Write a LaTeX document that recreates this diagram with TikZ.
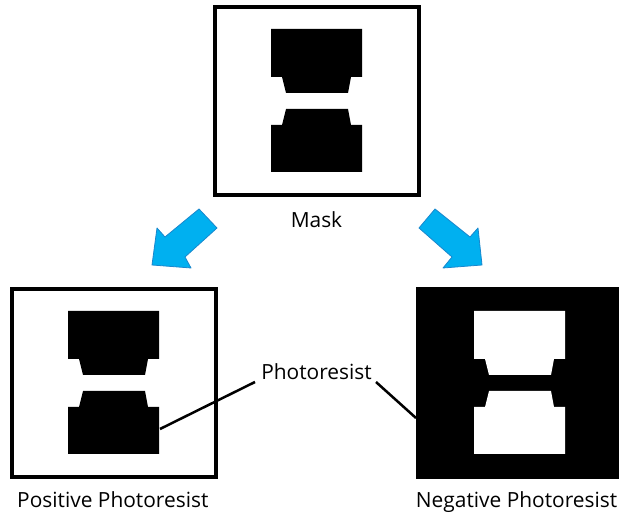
\documentclass[tikz,border=0pt]{standalone}
\usepackage{fontspec}
\setmainfont{Open Sans}
\definecolor{arrowfill}{RGB}{0,176,240}
\definecolor{arrowline}{RGB}{25,135,205}
\tikzset{
  frame/.style={draw=black, line width=4pt, inner sep=0pt, minimum width=204pt, minimum height=188pt},
  lbl/.style={inner sep=0pt, font=\fontsize{20.9}{25}\selectfont},
  leader/.style={draw=black, line width=2.5pt},
  blockarrow/.style={fill=arrowfill, draw=arrowline, line width=0.8pt, line join=round},
  hourglass/.pic={
    \path[pic actions] (0,0) -- (91,0) -- (91,48) -- (80,48) -- (77,64) -- (15,64) -- (11,48) -- (0,48) -- cycle
      (15,80) -- (77,80) -- (80,96) -- (91,96) -- (91,143) -- (0,143) -- (0,96) -- (11,96) -- cycle;
  }
}
\begin{document}
\begin{tikzpicture}[x=1pt,y=-1pt]
\useasboundingbox (0,0) rectangle (619,518);
\clip (0,0) rectangle (619,518);
% mask
\node[frame] (maskbox) at (317,101) {};
\pic[fill=black] at (271,29) {hourglass};
\node[lbl, anchor=base] (masklbl) at (316.5,228) {Mask};
% arrows
\path[blockarrow] (199,209) -- (217,228) -- (185,257) -- (191,268) -- (152,265) -- (157,228) -- (165,237) -- cycle;
\path[blockarrow] (435,209) -- (419,228) -- (452,257) -- (443,268) -- (482,265) -- (478,228) -- (470,237) -- cycle;
% positive
\node[frame] (posbox) at (114,383) {};
\pic[fill=black] at (68,311) {hourglass};
\node[lbl, anchor=base west] (poslbl) at (17,508) {Positive Photoresist};
% negative
\node[fill=black, inner sep=0pt, minimum width=208pt, minimum height=192pt] (negbox) at (520,383) {};
\pic[fill=white] at (474,311) {hourglass};
\node[lbl, anchor=base east] (neglbl) at (617.5,508) {Negative Photoresist};
% photoresist label and leaders
\node[lbl, anchor=base] (prlbl) at (316.5,380) {Photoresist};
\coordinate (posend) at (160,429);
\coordinate (negend) at (416,418);
\coordinate (prleft) at (255,382);
\coordinate (prright) at (376,382);
\draw[leader] (prleft) -- (posend);
\draw[leader] (prright) -- (negend);
\end{tikzpicture}
\end{document}
